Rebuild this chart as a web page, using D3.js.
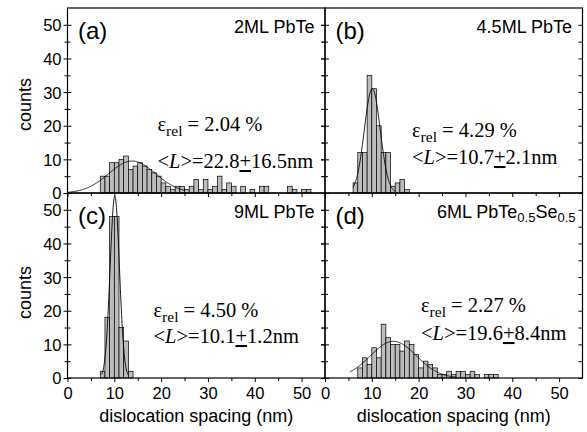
<!DOCTYPE html>
<html>
<head>
<meta charset="utf-8">
<script src="https://cdn.jsdelivr.net/npm/d3@7"></script>
<style>
  html, body { margin: 0; padding: 0; background: #fff; }
  svg { display: block; }
  .tick-label { font-family: "Liberation Sans", Arial, sans-serif; font-size: 16.5px; fill: #000; }
  .axis-title { font-family: "Liberation Sans", Arial, sans-serif; font-size: 18px; fill: #000; }
  .panel-tag { font-family: "Liberation Sans", Arial, sans-serif; font-size: 24px; fill: #000; }
  .sample { font-family: "Liberation Sans", Arial, sans-serif; font-size: 18px; fill: #000; }
  .note { font-family: "Liberation Serif", "Times New Roman", serif; font-size: 20.5px; fill: #000; }
</style>
</head>
<body>
<svg id="chart" width="587" height="432"></svg>
<script>
// Histogram bins are 1 nm wide; each series starts at its first bin edge (nm).
const panelTags = ["(a)", "(b)", "(c)", "(d)"];
const binStart = [7, 6, 7, 7];
const countsA = [5, 5, 9, 9, 10, 11, 7, 8, 9, 8, 7, 6, 5, 3, 2, 1, 2, 2, 1, 2, 4, 1, 4, 1, 2, 5, 1, 3, 2, 0, 2, 0, 1, 0, 2, 2, 0, 0, 0, 0, 2, 1, 0, 1, 1];
const countsB = [3, 12, 12, 35, 31, 20, 12, 12, 2, 3, 4, 1];
const countsC = [2, 18, 48, 48, 15, 11, 2];
const countsD = [3, 6, 4, 9, 6, 16, 12, 10, 10, 8, 11, 10, 7, 3, 5, 4, 3, 1, 1, 2, 1, 2, 2, 1, 2, 1, 0, 1, 1, 1];

// Gaussian fit curves: centre, sigma, peak height, drawn x-range
const fitCenter = [13.8, 10.1, 10.1, 14.6];
const fitSigma = [5.0, 1.7, 1.0, 4.9];
const fitPeak = [9.5, 31, 54, 10.9];
const fitFrom = [0, 6, 7.3, 5.3];
const fitTo = [25, 15, 13, 28];

// Per-panel text
const strainPct = ["2.04", "4.29", "4.50", "2.27"];
const meanL = ["22.8", "10.7", "10.1", "19.6"];
const spreadL = ["16.5", "2.1", "1.2", "8.4"];

const xTicks = [0, 10, 20, 30, 40, 50];
const yTicks = [0, 10, 20, 30, 40, 50];
const xMinor = [5, 15, 25, 35, 45];
const yMinor = [5, 15, 25, 35, 45];

const seriesCounts = [countsA, countsB, countsC, countsD];

const svg = d3.select("#chart");
const xLeft = 67.5, xMid = 325, xRight = 582.5;
const yTop = 8, yRow = 193, yBottom = 378;

const panels = [
  { x0: xLeft, x1: xMid, y0: yTop, y1: yRow, col: 0, rowi: 0 },
  { x0: xMid, x1: xRight, y0: yTop, y1: yRow, col: 1, rowi: 0 },
  { x0: xLeft, x1: xMid, y0: yRow, y1: yBottom, col: 0, rowi: 1 },
  { x0: xMid, x1: xRight, y0: yRow, y1: yBottom, col: 1, rowi: 1 }
];

// annotation anchor (left x, baseline of first line, baseline of second line)
const noteX = [157.5, 412, 153.5, 421];
const noteY1 = [131, 137, 317, 312];
const noteY2 = [168, 164, 343, 340];

panels.forEach((p, i) => {
  const x = d3.scaleLinear().domain([0, 55]).range([p.x0, p.x1]);
  const y = d3.scaleLinear().domain([0, 55]).range([p.y1, p.y0]);
  const g = svg.append("g");

  const data = seriesCounts[i].map((c, k) => ({ lo: binStart[i] + k, hi: binStart[i] + k + 1, c }));

  g.selectAll("rect.bar").data(data.filter(d => d.c > 0)).join("rect")
    .attr("class", "bar")
    .attr("x", d => x(d.lo))
    .attr("width", d => x(d.hi) - x(d.lo))
    .attr("y", d => y(d.c))
    .attr("height", d => y(0) - y(d.c))
    .attr("fill", "#bcbcbc")
    .attr("stroke", "#000")
    .attr("stroke-width", 0.7);

  // fitted Gaussian
  const xs = d3.range(fitFrom[i], fitTo[i] + 0.001, 0.05);
  const line = d3.line()
    .x(v => x(v))
    .y(v => y(fitPeak[i] * Math.exp(-((v - fitCenter[i]) ** 2) / (2 * fitSigma[i] ** 2))));
  g.append("path").attr("d", line(xs)).attr("fill", "none").attr("stroke", "#000").attr("stroke-width", 0.9);

  // frame
  g.append("rect").attr("x", p.x0).attr("y", p.y0).attr("width", p.x1 - p.x0).attr("height", p.y1 - p.y0)
    .attr("fill", "none").attr("stroke", "#000").attr("stroke-width", 1.2);

  // bottom axis ticks (outward)
  const bAx = g.append("g").attr("transform", `translate(0,${p.y1})`)
    .call(d3.axisBottom(x).tickValues(xTicks).tickSize(4).tickFormat(p.rowi === 1 ? d3.format("d") : ""));
  bAx.select(".domain").remove();
  bAx.attr("font-size", null).attr("font-family", null);
  bAx.selectAll("text").attr("class", "tick-label").attr("dy", null).attr("y", 21);
  const bMin = g.append("g").attr("transform", `translate(0,${p.y1})`)
    .call(d3.axisBottom(x).tickValues(xMinor).tickSize(3).tickFormat(""));
  bMin.select(".domain").remove();

  // left axis ticks (crossing)
  const lAx = g.append("g").attr("transform", `translate(${p.x0},0)`)
    .call(d3.axisLeft(y).tickValues(yTicks).tickSize(4).tickFormat(p.col === 0 ? d3.format("d") : ""));
  lAx.select(".domain").remove();
  lAx.attr("font-size", null).attr("font-family", null);
  lAx.selectAll("line").attr("x1", 4);
  lAx.selectAll("text").attr("class", "tick-label").attr("x", -6).attr("dy", "0.36em");
  const lMin = g.append("g").attr("transform", `translate(${p.x0},0)`)
    .call(d3.axisLeft(y).tickValues(yMinor).tickSize(3).tickFormat(""));
  lMin.select(".domain").remove();
  lMin.selectAll("line").attr("x1", 3);

  // right axis ticks (inward)
  const rAx = g.append("g").attr("transform", `translate(${p.x1},0)`)
    .call(d3.axisLeft(y).tickValues(yTicks.concat(yMinor)).tickSize(4).tickFormat(""));
  rAx.select(".domain").remove();

  g.selectAll(".tick line").attr("stroke", "#000").attr("stroke-width", 1);

  // panel tag
  g.append("text").attr("class", "panel-tag").attr("x", p.x0 + 10.5).attr("y", p.y0 + 30.5).text(panelTags[i]);

  // sample label, right-aligned
  const s = g.append("text").attr("class", "sample").attr("text-anchor", "end")
    .attr("x", p.x1 - 10.5).attr("y", p.y0 + 24.5);
  if (i === 0) s.text("2ML PbTe");
  if (i === 1) s.text("4.5ML PbTe");
  if (i === 2) s.text("9ML PbTe");
  if (i === 3) {
    s.attr("x", p.x1 - 7);
    s.append("tspan").text("6ML PbTe");
    s.append("tspan").attr("font-size", "13px").attr("dy", 4).text("0.5");
    s.append("tspan").attr("dy", -4).text("Se");
    s.append("tspan").attr("font-size", "13px").attr("dy", 4).text("0.5");
  }

  // strain and mean spacing notes
  const t1 = g.append("text").attr("class", "note").attr("x", noteX[i]).attr("y", noteY1[i]);
  t1.append("tspan").text("ε");
  t1.append("tspan").attr("font-size", "15.5px").attr("dy", 5).text("rel");
  t1.append("tspan").attr("dy", -5).text(" = " + strainPct[i] + " %");

  const t2 = g.append("text").attr("class", "note").attr("x", noteX[i]).attr("y", noteY2[i]);
  t2.append("tspan").text("<");
  t2.append("tspan").attr("font-style", "italic").text("L");
  t2.append("tspan").text(">=" + meanL[i]);
  t2.append("tspan").attr("text-decoration", "underline").text("+");
  t2.append("tspan").text(spreadL[i] + "nm");
});

// axis titles
svg.append("text").attr("class", "axis-title").attr("text-anchor", "middle")
  .attr("transform", `translate(31,${(yTop + yRow) / 2 + 4}) rotate(-90)`).text("counts");
svg.append("text").attr("class", "axis-title").attr("text-anchor", "middle")
  .attr("transform", `translate(31,${(yRow + yBottom) / 2 + 7}) rotate(-90)`).text("counts");
svg.append("text").attr("class", "axis-title").attr("text-anchor", "middle")
  .attr("x", (xLeft + xMid) / 2).attr("y", 422).text("dislocation spacing (nm)");
svg.append("text").attr("class", "axis-title").attr("text-anchor", "middle")
  .attr("x", (xMid + xRight) / 2).attr("y", 422).text("dislocation spacing (nm)");
</script>
</body>
</html>
